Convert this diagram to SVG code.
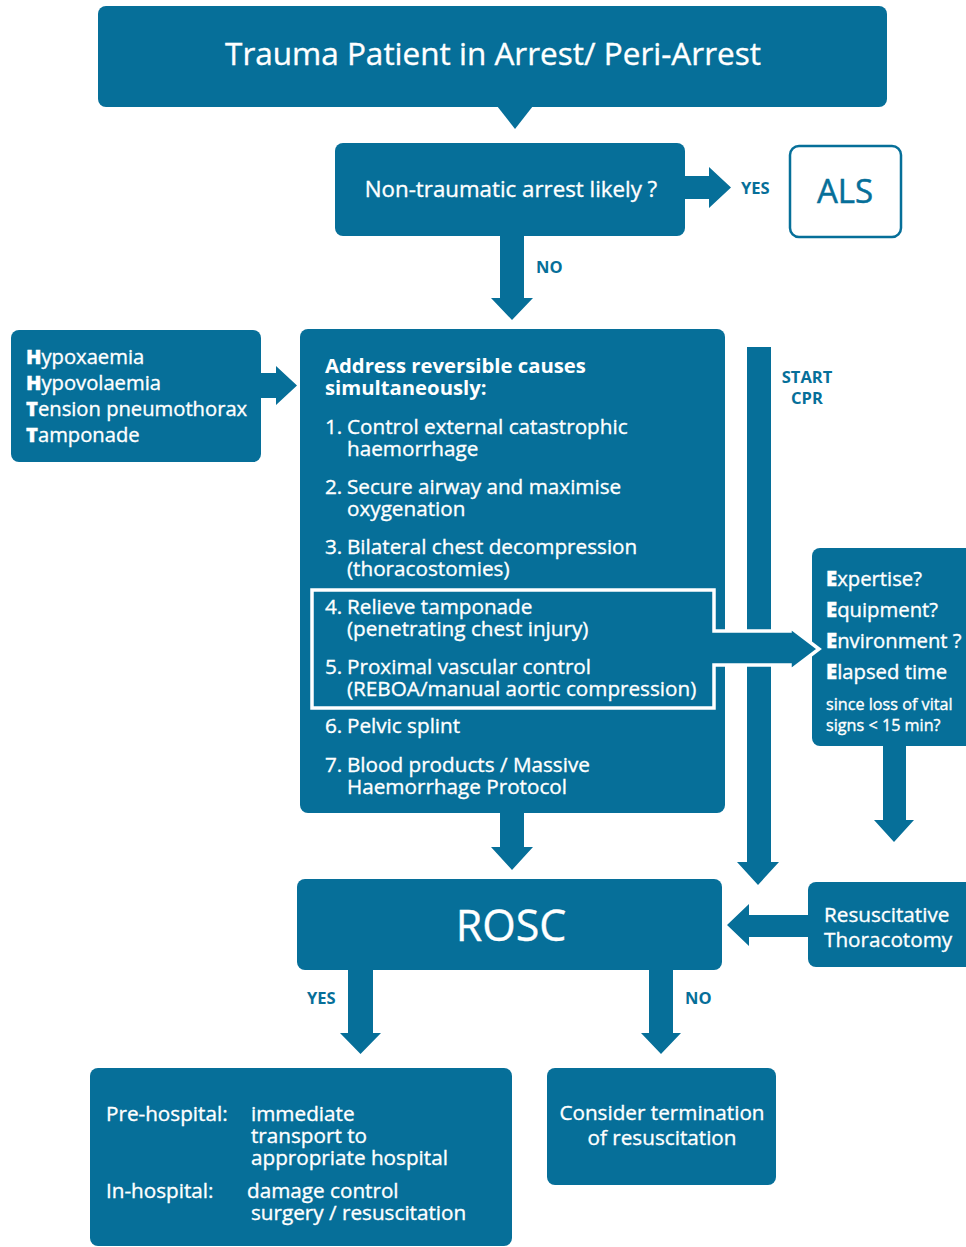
<svg xmlns="http://www.w3.org/2000/svg" width="966" height="1247" viewBox="0 0 966 1247">
<style>
.b{fill:#066f99}
.t{fill:#fff;font-family:"Open Sans",Lato,"Liberation Sans",sans-serif;stroke:#fff;stroke-width:0.35}
.lbl{fill:#066f99;font-family:"Open Sans",Lato,"Liberation Sans",sans-serif;font-weight:bold;font-size:16.5px}
.it{font-size:20.7px}
.hd{font-size:20.3px;font-weight:bold;stroke-width:0}
.k{font-weight:800}
.m{text-anchor:middle}
</style>
<rect width="966" height="1247" fill="#fff"/>
<g id="title">
<rect class="b" x="98" y="6" width="789" height="101" rx="8"/>
<polygon class="b" points="497,106 533,106 515,129"/>
<text class="t m" x="493" y="65" font-size="31.5">Trauma Patient in Arrest/ Peri-Arrest</text>
</g>
<g id="nontraumatic">
<rect class="b" x="335" y="143" width="350" height="93" rx="8"/>
<text class="t m" x="511" y="197" font-size="22.3">Non-traumatic arrest likely ?</text>
</g>
<g id="als">
<rect x="790" y="146" width="111" height="91" rx="9" fill="#fff" stroke="#066f99" stroke-width="2.5"/>
<text class="m" x="845" y="203" font-size="33" fill="#066f99" stroke="#066f99" stroke-width="0.5" font-family="'Open Sans',Lato,'Liberation Sans',sans-serif">ALS</text>
</g>
<g id="hhtt">
<rect class="b" x="11" y="330" width="250" height="132" rx="8"/>
<text class="t" font-size="20.2"><tspan x="26" y="364"><tspan class="k">H</tspan>ypoxaemia</tspan><tspan x="26" y="390"><tspan class="k">H</tspan>ypovolaemia</tspan><tspan x="26" y="416"><tspan class="k">T</tspan>ension pneumothorax</tspan><tspan x="26" y="442"><tspan class="k">T</tspan>amponade</tspan></text>
</g>
<g id="main">
<rect class="b" x="300" y="329" width="425" height="484" rx="8"/>
</g>
<g id="eeee">
<rect class="b" x="812" y="548" width="170" height="198" rx="8"/>
<text class="t" font-size="20.3"><tspan x="826" y="586"><tspan class="k">E</tspan>xpertise?</tspan><tspan x="826" y="617"><tspan class="k">E</tspan>quipment?</tspan><tspan x="826" y="648"><tspan class="k">E</tspan>nvironment ?</tspan><tspan x="826" y="679"><tspan class="k">E</tspan>lapsed time</tspan></text>
<text class="t" font-size="16.2"><tspan x="826" y="710">since loss of vital</tspan><tspan x="826" y="731">signs &lt; 15 min?</tspan></text>
</g>
<g id="connectors">
<path class="b" d="M685,176 H709 V167 L731,187.5 L709,208 V199 H685 Z"/>
<path class="b" d="M500,236 H524 V298 H533 L512,320 L491,298 H500 Z"/>
<path class="b" d="M261,373 H276 V366 L297,385.5 L276,405 V398 H261 Z"/>
<path class="b" d="M747,347 H771 V862 H779 L758,885 L737,862 H747 Z"/>
<path class="b" d="M883,746 H906 V820 H914 L894,842 L874,820 H883 Z"/>
<path class="b" d="M500,812 H524 V847 H533 L512,870 L491,847 H500 Z"/>
<path class="b" d="M809,915 H749 V904 L727,925 L749,946 V937 H809 Z"/>
<path class="b" d="M348,969 H373 V1033 H381 L360.5,1054 L340,1033 H348 Z"/>
<path class="b" d="M649,969 H673 V1033 H681 L661,1054 L641,1033 H649 Z"/>
<path id="box45" class="b" d="M312,590 H714 V631 H790 V627 L819,649 L790,671 V665 H714 V708 H312 Z" stroke="#fff" stroke-width="3.5"/>
<text class="lbl" x="741" y="194">YES</text>
<text class="lbl" x="536" y="273">NO</text>
<text class="lbl m" x="807" y="383">START</text>
<text class="lbl m" x="807" y="404">CPR</text>
<text class="lbl" x="307" y="1004">YES</text>
<text class="lbl" x="685" y="1004">NO</text>
</g>
<g id="main-text">
<text class="t hd"><tspan x="325" y="373">Address reversible causes</tspan><tspan x="325" y="395">simultaneously:</tspan></text>
<text class="t it">
<tspan x="325" y="434">1.</tspan><tspan x="347" y="434">Control external catastrophic</tspan><tspan x="347" y="456">haemorrhage</tspan>
<tspan x="325" y="494">2.</tspan><tspan x="347" y="494">Secure airway and maximise</tspan><tspan x="347" y="516">oxygenation</tspan>
<tspan x="325" y="554">3.</tspan><tspan x="347" y="554">Bilateral chest decompression</tspan><tspan x="347" y="576">(thoracostomies)</tspan>
<tspan x="325" y="614">4.</tspan><tspan x="347" y="614">Relieve tamponade</tspan><tspan x="347" y="636">(penetrating chest injury)</tspan>
<tspan x="325" y="674">5.</tspan><tspan x="347" y="674">Proximal vascular control</tspan><tspan x="347" y="696">(REBOA/manual aortic compression)</tspan>
<tspan x="325" y="733">6.</tspan><tspan x="347" y="733">Pelvic splint</tspan>
<tspan x="325" y="772">7.</tspan><tspan x="347" y="772">Blood products / Massive</tspan><tspan x="347" y="794">Haemorrhage Protocol</tspan>
</text>
</g>
<g id="rosc">
<rect class="b" x="297" y="879" width="425" height="91" rx="8"/>
<text class="t m" x="511" y="941" font-size="43">ROSC</text>
</g>
<g id="thoracotomy">
<rect class="b" x="808" y="882" width="170" height="85" rx="8"/>
<text class="t" font-size="20.7"><tspan x="824" y="922">Resuscitative</tspan><tspan x="824" y="947">Thoracotomy</tspan></text>
</g>
<g id="transport">
<rect class="b" x="90" y="1068" width="422" height="178" rx="8"/>
<text class="t" font-size="20.7">
<tspan x="106" y="1121">Pre-hospital:</tspan><tspan x="251" y="1121">immediate</tspan><tspan x="251" y="1143">transport to</tspan><tspan x="251" y="1165">appropriate hospital</tspan>
<tspan x="106" y="1198">In-hospital:</tspan><tspan x="247" y="1198">damage control</tspan><tspan x="251" y="1220">surgery / resuscitation</tspan>
</text>
</g>
<g id="termination">
<rect class="b" x="547" y="1068" width="229" height="117" rx="8"/>
<text class="t m" font-size="20.7"><tspan x="662" y="1120">Consider termination</tspan><tspan x="662" y="1145">of resuscitation</tspan></text>
</g>
</svg>
